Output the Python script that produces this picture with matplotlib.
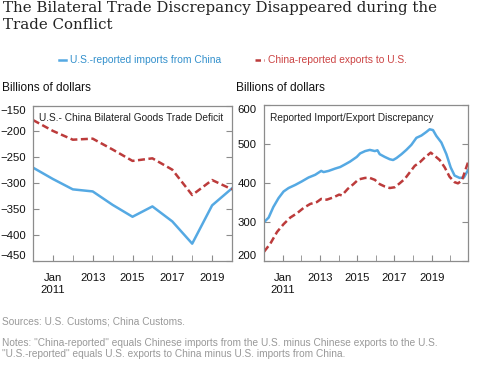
import matplotlib
matplotlib.use("Agg")
from matplotlib import pyplot as plt

# left panel: annual bilateral goods trade deficit (billions of dollars)
years = [2010, 2011, 2012, 2013, 2014, 2015, 2016, 2017, 2018, 2019, 2020]
us_deficit = [-270, -292, -312, -316, -342, -365, -345, -374, -417, -343, -310]
cn_deficit = [-178, -199, -216, -214, -235, -257, -252, -274, -323, -294, -312]

# right panel: reported import/export discrepancy
us_dates = [2010.0, 2010.25, 2010.5, 2010.78, 2011.05, 2011.32, 2011.68, 2012.03,
            2012.39, 2012.75, 2013.07, 2013.2, 2013.47, 2013.82, 2014.09, 2014.36,
            2014.62, 2014.98, 2015.16, 2015.43, 2015.68, 2015.95, 2016.09, 2016.21,
            2016.48, 2016.75, 2016.93, 2017.11, 2017.38, 2017.64, 2017.91, 2018.18,
            2018.45, 2018.71, 2018.89, 2019.07, 2019.25, 2019.52, 2019.79, 2020.02,
            2020.23, 2020.5, 2020.73, 2020.95]
us_imports = [299, 311, 338, 361, 378, 387, 395, 404,
              414, 421, 431, 428, 431, 437, 441, 448,
              455, 467, 476, 482, 485, 482, 484, 474,
              467, 461, 459, 464, 474, 485, 498, 516,
              522, 531, 538, 536, 521, 504, 474, 440,
              419, 413, 414, 433]
cn_dates = [2010.0, 2010.34, 2010.7, 2011.05, 2011.41, 2011.77, 2012.13, 2012.48,
            2012.84, 2013.07, 2013.37, 2013.73, 2014.03, 2014.18, 2014.5, 2014.8,
            2015.07, 2015.43, 2015.68, 2015.95, 2016.21, 2016.48, 2016.75, 2017.02,
            2017.28, 2017.55, 2017.82, 2018.09, 2018.36, 2018.62, 2018.95, 2019.16,
            2019.43, 2019.7, 2019.96, 2020.23, 2020.41, 2020.62, 2020.95]
cn_exports = [223, 244, 274, 294, 311, 322, 336, 346,
              351, 359, 357, 363, 370, 368, 385, 397,
              409, 413, 413, 408, 397, 391, 387, 389,
              399, 410, 427, 444, 453, 465, 478, 470,
              459, 440, 416, 402, 399, 406, 453]

xtick_years = [2011, 2013, 2015, 2017, 2019]
xtick_labels = ["Jan\n2011", "2013", "2015", "2017", "2019"]

blue = "#55A9E3"
red = "#BC3B3B"
grey = "#8C8C8C"
dash = (2.8, 1.4)

plt.rcParams['font.family'] = ['Liberation Sans', 'DejaVu Sans']

fig = plt.figure(figsize=(5, 3.73), dpi=100)

fig.text(0.006, 0.997, "The Bilateral Trade Discrepancy Disappeared during the\nTrade Conflict",
         family="DejaVu Serif", fontsize=10.8, va="top", ha="left", linespacing=1.3,
         color="#222222")

# legend row
fig.lines.append(plt.Line2D([0.118, 0.132], [0.839, 0.839], transform=fig.transFigure,
                            color=blue, lw=1.8))
fig.text(0.14, 0.839, "U.S.-reported imports from China", color="#3390CC",
         fontsize=7.4, va="center")
fig.lines.append(plt.Line2D([0.51, 0.527], [0.839, 0.839], transform=fig.transFigure,
                            color=red, lw=1.8, dashes=(2.2, 1.2)))
fig.text(0.535, 0.839, "China-reported exports to U.S.", color="#CC4444",
         fontsize=7.4, va="center")

fig.text(0.004, 0.763, "Billions of dollars", fontsize=8.6, va="center", color="#111111")
fig.text(0.472, 0.763, "Billions of dollars", fontsize=8.6, va="center", color="#111111")


def style(ax):
    for s in ax.spines.values():
        s.set_color(grey)
        s.set_linewidth(0.9)
    ax.tick_params(axis="both", direction="in", length=4, color=grey, labelsize=8.2,
                   labelcolor="#111111")
    ax.tick_params(axis="y", right=True, pad=5.2)
    ax.set_xticks(list(range(2011, 2021)), minor=True)
    ax.tick_params(axis="x", which="minor", direction="in", length=4, color=grey)
    ax.set_xticks(xtick_years, labels=xtick_labels)
    ax.tick_params(axis="x", pad=9)
    # end labels sit inside the frame, as in the original
    labels = ax.get_yticklabels()
    labels[0].set_va("bottom")
    labels[-1].set_va("top")


ax1 = fig.add_axes([0.066, 0.301, 0.398, 0.416])
ax1.plot(years, us_deficit, color=blue, lw=1.8)
ax1.plot(years, cn_deficit, color=red, lw=1.8, dashes=dash)
ax1.set_xlim(2010, 2020)
ax1.set_ylim(-450, -150)
ax1.set_yticks(range(-450, -149, 50))
style(ax1)
ax1.text(0.03, 0.95, "U.S.- China Bilateral Goods Trade Deficit", transform=ax1.transAxes,
         fontsize=7.3, va="top", ha="left", color="#222222")

ax2 = fig.add_axes([0.528, 0.301, 0.408, 0.417])
ax2.plot(us_dates, us_imports, color=blue, lw=1.8)
ax2.plot(cn_dates, cn_exports, color=red, lw=1.8, dashes=dash)
ax2.set_xlim(2010, 2020.95)
ax2.set_ylim(200, 600)
ax2.set_yticks(range(200, 601, 100))
style(ax2)
ax2.text(0.03, 0.95, "Reported Import/Export Discrepancy", transform=ax2.transAxes,
         fontsize=7.3, va="top", ha="left", color="#222222")

fig.text(0.004, 0.138, "Sources: U.S. Customs; China Customs.", fontsize=7.3, color="#999999",
         va="center")
fig.text(0.004, 0.066,
         "Notes: \"China-reported\" equals Chinese imports from the U.S. minus Chinese exports to the U.S.\n"
         "\"U.S.-reported\" equals U.S. exports to China minus U.S. imports from China.",
         fontsize=7.3, color="#999999", va="center", linespacing=1.15)

fig.savefig("out.png", dpi=100)
